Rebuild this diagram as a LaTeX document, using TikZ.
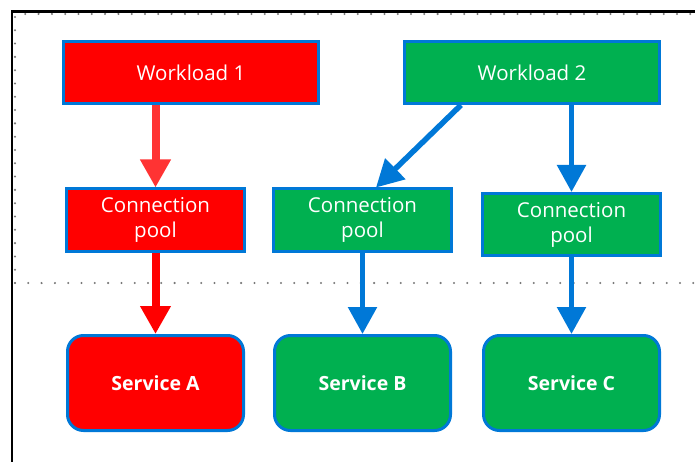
\documentclass[tikz,border=0pt]{standalone}
\usepackage{fontspec}
\setmainfont{Open Sans}
\usetikzlibrary{arrows.meta}
\definecolor{wlred}{RGB}{255,0,0}
\definecolor{wlgreen}{RGB}{0,176,80}
\definecolor{wlblue}{RGB}{0,120,215}
\definecolor{dotgray}{RGB}{120,120,120}
\tikzset{
  wlbox/.style={rectangle, draw=wlblue, line width=3pt, text=white,
    align=center, font=\fontsize{20.5}{25}\selectfont,
    minimum width=255pt, minimum height=62pt},
  poolbox/.style={rectangle, draw=wlblue, line width=3pt, text=white,
    align=center, font=\fontsize{20.5}{25}\selectfont,
    minimum width=178pt, minimum height=62pt},
  svcbox/.style={rectangle, draw=wlblue, line width=3pt, text=white,
    align=center, font=\fontsize{19.5}{24}\selectfont\bfseries,
    rounded corners=16pt, minimum width=176pt, minimum height=95pt},
  redarrow/.style={-{Triangle[width=29pt,length=28pt]}, line width=8pt, color=wlred},
  bluearrow/.style={-{Triangle[width=28pt,length=27pt]}, line width=5.5pt, color=wlblue},
  dotline/.style={dotgray, line width=2.3pt, line cap=round, dash pattern=on 0pt off 13.3pt}
}
\begin{document}
\begin{tikzpicture}[x=1pt, y=-1pt]
  \useasboundingbox (0,0) rectangle (695,462);

  % Frame
  \draw[dotline] (15,283) -- (15,14) -- (695,14);
  \draw[dotline] (15,283) -- (695,283);
  \draw[line width=2.5pt] (12,462) -- (12,11.5) -- (695,11.5);

  % Workloads
  \node[wlbox, fill=wlred] (w1) at (191,72.5) {Workload 1};
  \node[wlbox, fill=wlgreen] (w2) at (532,72.5) {Workload 2};

  % Pools
  \node[poolbox, fill=wlred] (p1) at (155.5,220) {Connection\\pool};
  \node[poolbox, fill=wlgreen] (p2) at (362.5,220) {Connection\\pool};
  \node[poolbox, fill=wlgreen] (p3) at (571.5,224.5) {Connection\\pool};

  % Services
  \node[svcbox, fill=wlred] (sA) at (155.5,383) {Service A};
  \node[svcbox, fill=wlgreen] (sB) at (362.5,383) {Service B};
  \node[svcbox, fill=wlgreen] (sC) at (571.5,383) {Service C};

  % Connections
  \draw[redarrow, color=wlred!80!white] (w1.south -| p1.north) -- (p1.north);
  \draw[redarrow] (p1.south) -- (sA.north);
  \draw[bluearrow] ([xshift=58pt]w2.south west) -- ([xshift=104pt]p2.north west);
  \draw[bluearrow] (w2.south -| p3.north) -- (p3.north);
  \draw[bluearrow] (p2.south) -- (sB.north);
  \draw[bluearrow] (p3.south) -- (sC.north);
\end{tikzpicture}
\end{document}
